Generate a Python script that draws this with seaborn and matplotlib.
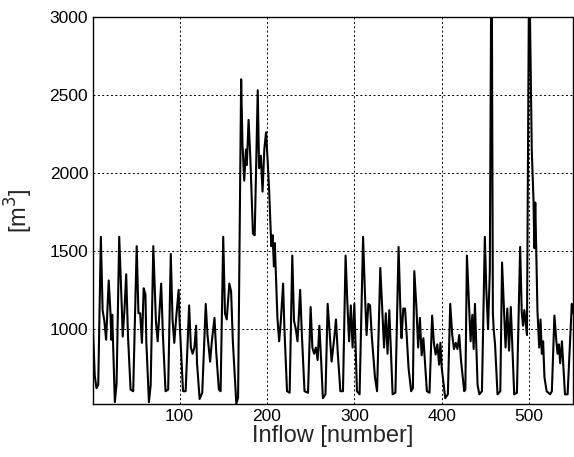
import matplotlib
matplotlib.use("Agg")
import matplotlib.pyplot as plt
import seaborn as sns
import pandas as pd

# vertices of the inflow curve (sample index, m3)
idx = [1, 3, 5, 7, 10, 12, 14, 16, 19, 21, 22, 23, 26, 28, 31, 34, 35, 37, 39, 41,
       44, 47, 51, 53, 55, 57, 59, 61, 62, 65, 67, 70, 73, 75, 77, 79, 81, 84, 87, 90,
       92, 94, 96, 99, 100, 104, 107, 111, 113, 115, 117, 119, 120, 123, 126, 130, 132, 135, 137, 140,
       142, 145, 147, 150, 152, 154, 157, 159, 161, 165, 167, 170.5, 172, 174, 176, 177, 179, 181, 184, 186,
       189.5, 191, 193, 195, 197, 199, 201, 202.5, 205, 206.5, 208, 209, 212, 214, 216, 218.5, 220, 223, 226, 229,
       231, 233, 235, 238, 240, 243, 247, 250, 252, 254, 256, 258, 260, 262, 264, 267, 269.5, 272, 274, 277,
       279, 281, 284, 287, 290, 292, 294, 296, 298, 300, 303, 306, 310, 312, 314, 316, 318, 320, 323.6, 326,
       329.7, 332, 334, 336, 338, 340, 343.8, 347, 350.6, 353, 354, 356, 358, 360, 362, 365, 367, 368.6, 371, 373,
       375, 377, 379, 383, 386, 389, 391, 393, 395, 397, 398.5, 400, 404, 407, 409.7, 412, 414, 416, 418, 420,
       422, 425.7, 427, 428.8, 431, 433, 435, 436.5, 438, 441, 443, 446, 449.3, 451, 453, 455, 457, 458.5, 459.5, 461,
       463.8, 467, 469, 471, 473, 475, 477, 479, 482.9, 486, 489.7, 491.5, 493, 494.5, 496, 497.5, 500, 503, 505, 506,
       507, 508, 509.5, 511.5, 513, 514.5, 516, 517.5, 520, 524, 526, 528.9, 531, 532.5, 534, 535.5, 537.5, 541, 544, 548.8,
       550]
inflow = [1000, 700, 620, 640, 1590, 1120, 1050, 930, 1310, 1100, 930, 1090, 530, 650, 1590, 1130, 950, 1120, 1350, 960,
          610, 600, 1530, 1100, 1100, 910, 1260, 1220, 920, 530, 640, 1530, 1050, 920, 1100, 1290, 960, 600, 610, 1480,
          1060, 910, 1060, 1250, 1060, 600, 600, 1150, 880, 840, 880, 1020, 780, 550, 590, 1160, 960, 790, 920, 1070,
          850, 610, 600, 1590, 1100, 1060, 1290, 1240, 920, 520, 560, 2600, 2190, 1950, 2150, 2050, 2340, 2100, 1610, 1600,
          2530, 2030, 2110, 1880, 2150, 2260, 2060, 1890, 1530, 1600, 1400, 1550, 1070, 920, 1060, 1290, 1000, 600, 590, 1470,
          1050, 1000, 920, 1250, 960, 600, 590, 1140, 880, 840, 880, 800, 1020, 800, 555, 580, 1160, 960, 790, 940,
          1060, 850, 600, 600, 1470, 1170, 920, 1150, 880, 1160, 600, 580, 1590, 1250, 960, 1160, 1150, 950, 690, 600,
          1390, 1110, 880, 1100, 840, 1120, 580, 590, 1525, 1060, 940, 1130, 1130, 950, 750, 600, 620, 1370, 1140, 880,
          1070, 830, 940, 600, 590, 1085, 910, 835, 900, 770, 910, 750, 555, 580, 1160, 960, 870, 910, 870, 960,
          800, 600, 610, 1470, 1180, 920, 1090, 870, 1160, 640, 580, 600, 1590, 1250, 1000, 1370, 3700, 1100, 990, 900,
          580, 600, 1425, 1160, 880, 1130, 860, 1140, 580, 590, 1525, 1110, 1020, 1120, 1040, 960, 3400, 2145, 1820, 1517,
          1810, 1525, 1116, 880, 1060, 840, 920, 690, 600, 580, 600, 1085, 930, 840, 900, 780, 920, 580, 580, 1160,
          1100]

xticks = [100, 200, 300, 400, 500]
yticks = [1000, 1500, 2000, 2500, 3000]

df = pd.DataFrame({"idx": idx, "inflow": inflow})

sns.set_style("white")
plt.rcParams['font.family'] = ['Liberation Sans', 'DejaVu Sans']

fig = plt.figure(figsize=(5.74, 4.57), dpi=100)
ax = fig.add_axes([0.162, 0.116, 0.836, 0.847])

sns.lineplot(data=df, x="idx", y="inflow", ax=ax, color="black", linewidth=1.5,
             sort=False, estimator=None)

ax.set_xlim(1, 550)
ax.set_ylim(518, 3000)
ax.set_xticks(xticks)
ax.set_yticks(yticks)
ax.grid(True, color="black", linestyle=(0, (2, 2.5)), linewidth=0.7)
ax.tick_params(direction="in", length=4, labelsize=12.5, colors="black")
for s in ax.spines.values():
    s.set_color("black")
    s.set_linewidth(1.0)

ax.set_xlabel("Inflow [number]", fontsize=17, labelpad=1)
ax.set_ylabel("[m$^3$]", fontsize=17, labelpad=10)

fig.savefig("out.png", dpi=100)
